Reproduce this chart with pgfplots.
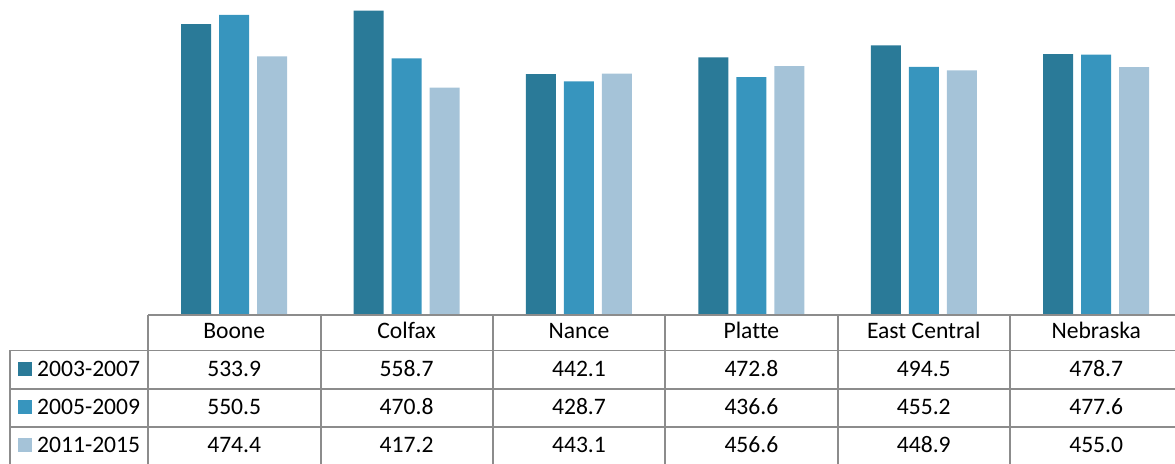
\documentclass[border=0pt]{standalone}
\usepackage{fontspec}
\setmainfont{Carlito}[Ligatures={NoCommon}]
\usepackage{pgfplots}
\usepackage{pgfplotstable}
\pgfplotsset{compat=1.18}

\definecolor{serA}{RGB}{42,122,152}
\definecolor{serB}{RGB}{55,149,190}
\definecolor{serC}{RGB}{165,195,216}
\definecolor{rule}{RGB}{140,140,140}

% Rate per region and period
\pgfplotstableread{
idx a     b     c
0   533.9 550.5 474.4
1   558.7 470.8 417.2
2   442.1 428.7 443.1
3   472.8 436.6 456.6
4   494.5 455.2 448.9
5   478.7 477.6 455.0
}\rates

\begin{document}
\begin{tikzpicture}[x=1bp,y=1bp,
  txt/.style={font=\fontsize{23.6bp}{27bp}\selectfont, text=black, inner sep=0pt}]
\useasboundingbox (0,0) rectangle (1175,464);
\clip (0,0) rectangle (1175,464);

\begin{axis}[
  at={(148bp,149bp)}, anchor=south west,
  scale only axis, width=1034.4bp, height=315bp,
  xmin=-0.5, xmax=5.5, ymin=0, ymax=578,
  axis lines=none, ticks=none,
  ybar=8bp, bar width=30bp, clip=false,
]
\addplot[fill=serA, draw=none] table[x=idx, y=a] {\rates};
\addplot[fill=serB, draw=none] table[x=idx, y=b] {\rates};
\addplot[fill=serC, draw=none] table[x=idx, y=c] {\rates};
\end{axis}

% data table grid
\begin{scope}[draw=rule, line width=1.8bp]
  \draw (148,149) -- (1175,149);
  \foreach \yy in {113.5,75,37} \draw (10,\yy) -- (1175,\yy);
  \draw (10,113.5) -- (10,0);
  \foreach \xx in {148,321,493,665,838,1010} \draw (\xx,149) -- (\xx,0);
\end{scope}

% column headers
\foreach \name [count=\i from 0] in {Boone,Colfax,Nance,Platte,East Central,Nebraska}
  \node[txt, anchor=base] at (234.2+172.4*\i,125) {\name};

% legend keys and row labels
\foreach \col/\lab [count=\r from 0] in {serA/2003-2007,serB/2005-2009,serC/2011-2015} {
  \fill[\col] (18,88-38*\r) rectangle ++(14,14);
  \node[txt, anchor=base west] at (37,87-38*\r) {\lab};
}

% values
\foreach \c [count=\r from 0] in {a,b,c} {
  \foreach \i in {0,...,5} {
    \pgfplotstablegetelem{\i}{\c}\of\rates
    \node[txt, anchor=base] at (234.2+172.4*\i,87-38*\r) {\pgfplotsretval};
  }
}
\end{tikzpicture}
\end{document}
